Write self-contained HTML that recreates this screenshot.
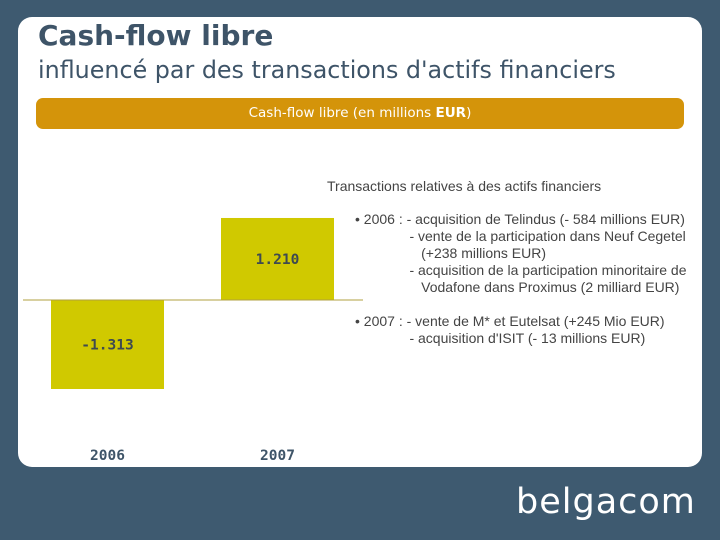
<!DOCTYPE html>
<html><head><meta charset="utf-8"><style>
body{margin:0;width:720px;height:540px;background:#3e5a70;position:relative;overflow:hidden;font-family:"DejaVu Sans","Liberation Sans",sans-serif}
.card{position:absolute;left:18px;top:17px;width:684px;height:450px;background:#fff;border-radius:14px}
.t1{position:absolute;left:38px;top:19px;font-size:28px;font-weight:bold;color:#3e5468}
.t2{position:absolute;left:38px;top:56px;font-size:23.8px;color:#3e5468}
.band{position:absolute;left:36px;top:98px;width:648px;height:31px;background:#d4940a;border-radius:7px;color:#fff;font-size:13.5px;text-align:center;line-height:31px}
.txt{position:absolute;font-family:"Liberation Sans",sans-serif;font-size:14px;color:#444;white-space:pre;line-height:17px}
.logo{position:absolute;left:516px;top:482px;font-size:35px;color:#fff;font-family:"DejaVu Sans",sans-serif;letter-spacing:1px}
</style></head><body>
<div class="card"></div>
<div class="t1">Cash-flow libre</div>
<div class="t2">influencé par des transactions d'actifs financiers</div>
<div class="band">Cash-flow libre (en millions <b>EUR</b>)</div>
<svg id="chart" width="720" height="540" style="position:absolute;left:0;top:0"></svg>
<div class="txt" style="left:327px;top:178px">Transactions relatives à des actifs financiers</div>
<div class="txt" style="left:355px;top:211px">• 2006 : - acquisition de Telindus (- 584 millions EUR)
              - vente de la participation dans Neuf Cegetel
                 (+238 millions EUR)
              - acquisition de la participation minoritaire de
                 Vodafone dans Proximus (2 milliard EUR)</div>
<div class="txt" style="left:355px;top:313px">• 2007 : - vente de M* et Eutelsat (+245 Mio EUR)
              - acquisition d'ISIT (- 13 millions EUR)</div>
<div class="logo">belgacom</div>
<script>
const categories=["2006","2007"];
const values=[-1313,1210];
const labels=["-1.313","1.210"];
const NS="http://www.w3.org/2000/svg";
const svg=document.getElementById('chart');
const y0=300,k=89/1313;
function y(v){return y0-v*k;}
function x(i){return 51+i*170;}
const bw=113;
values.forEach((v,i)=>{
  const r=document.createElementNS(NS,'rect');
  
  
  r.setAttribute('x',x(i));r.setAttribute('width',bw);
  r.setAttribute('y',Math.min(y(v),y0));r.setAttribute('height',Math.abs(y(v)-y0));
  r.setAttribute('fill','#d0c900');svg.appendChild(r);
  const t=document.createElementNS(NS,'text');
  
  
  t.setAttribute('x',x(i)+bw/2);t.setAttribute('y',(y(v)+y0)/2+5);
  t.setAttribute('text-anchor','middle');t.setAttribute('font-size','14.5');t.setAttribute('font-weight','bold');
  t.setAttribute('font-family','DejaVu Sans Mono, Liberation Mono, monospace');t.setAttribute('fill','#3e4a50');
  t.textContent=labels[i];svg.appendChild(t);
  const c=document.createElementNS(NS,'text');
  
  
  c.setAttribute('x',x(i)+bw/2);c.setAttribute('y',460);
  c.setAttribute('text-anchor','middle');c.setAttribute('font-size','14.5');c.setAttribute('font-weight','bold');
  c.setAttribute('font-family','DejaVu Sans Mono, Liberation Mono, monospace');c.setAttribute('fill','#3e5468');
  c.textContent=categories[i];svg.appendChild(c);
});
const ax=document.createElementNS(NS,'line');


ax.setAttribute('x1',23);ax.setAttribute('x2',363);ax.setAttribute('y1',y0);ax.setAttribute('y2',y0);
ax.setAttribute('stroke','#b0a040');ax.setAttribute('stroke-width','1');svg.appendChild(ax);
</script>
</body></html>
